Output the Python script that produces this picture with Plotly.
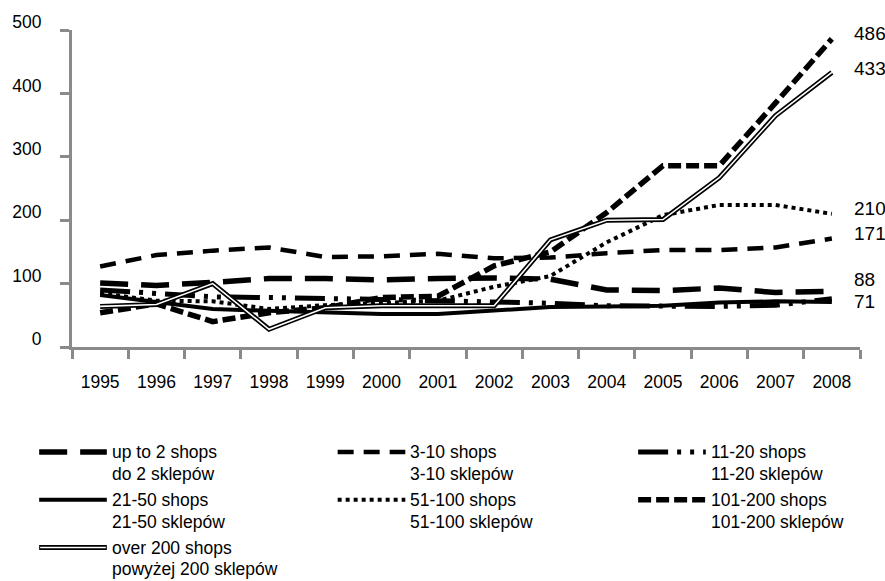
import plotly.graph_objects as go

# Categories (years)
years = ["1995", "1996", "1997", "1998", "1999", "2000", "2001",
         "2002", "2003", "2004", "2005", "2006", "2007", "2008"]

# Series values
up_to_2 = [101, 97, 102, 108, 108, 106, 108, 109, 107, 90, 89, 93, 86, 88]
shops_3_10 = [127, 145, 152, 157, 142, 143, 147, 140, 141, 148, 153, 153, 157, 171]
shops_11_20 = [90, 85, 79, 78, 77, 75, 73, 71, 69, 65, 64, 64, 66, 76]
shops_21_50 = [82, 71, 60, 57, 55, 52, 52, 57, 63, 64, 65, 70, 72, 71]
shops_51_100 = [85, 73, 72, 60, 66, 69, 73, 95, 112, 165, 208, 224, 224, 210]
shops_101_200 = [54, 68, 40, 54, 62, 78, 80, 128, 150, 212, 286, 286, 385, 486]
over_200 = [64, 67, 100, 28, 62, 65, 65, 65, 169, 200, 201, 267, 365, 433]

# Legend texts (English / Polish)
names_en = ["up to 2 shops", "3-10 shops", "11-20 shops", "21-50 shops",
            "51-100 shops", "101-200 shops", "over 200 shops"]
names_pl = ["do 2 sklepów", "3-10 sklepów", "11-20 sklepów", "21-50 sklepów",
            "51-100 sklepów", "101-200 sklepów", "powyżej 200 sklepów"]

y_ticks = [0, 100, 200, 300, 400, 500]

series = [up_to_2, shops_3_10, shops_11_20, shops_21_50,
          shops_51_100, shops_101_200, over_200]

# Line styles: (width, dash)
styles = [
    (5.5, "28px,13px"),
    (4.5, "16px,10px"),
    (5, "30px,9px,4px,9px,4px,9px"),
    (4, "solid"),
    (4, "4px,4px"),
    (5.5, "13px,5px"),
    (5, "solid"),          # double line: black outer
]

W, H = 885, 581
L, R, T, B = 68, 860, 29, 347.5
FONT = "Arial, Liberation Sans, sans-serif"
TXT = 17.5
AXIS_GREY = "#8a8a8a"


def px(x):
    return (x - L) / (R - L)


def py(y):
    return (B - y) / (B - T)


fig = go.Figure()

for vals, (w, dash), name in zip(series, styles, names_en):
    fig.add_trace(go.Scatter(
        x=years, y=vals, mode="lines", name=name,
        line=dict(color="black", width=w, dash=dash),
        showlegend=False, hoverinfo="x+y+name",
    ))

# white core of the double line
fig.add_trace(go.Scatter(
    x=years, y=over_200, mode="lines", name=names_en[6],
    line=dict(color="white", width=1.6),
    showlegend=False, hoverinfo="skip",
))

# end-of-line value labels: (series index, vertical nudge in px)
end_labels = [(5, 5), (6, 4), (4, 5), (1, 5), (0, 12), (3, 0)]
annotations = []
for idx, shift in end_labels:
    v = series[idx][-1]
    annotations.append(dict(
        x=px(852), xref="paper", y=v, yref="y", yshift=shift,
        text=str(v), showarrow=False, xanchor="left", yanchor="middle",
        font=dict(family=FONT, size=19, color="black"),
    ))

# custom legend: three columns, three rows, two text lines per entry
col_x = [35, 335, 637]
row_y = [453, 501, 549]
line_gap = 22
sample_len = 68
shapes = []
for i, (name_en, name_pl) in enumerate(zip(names_en, names_pl)):
    r, c = divmod(i, 3)
    x0 = col_x[c]
    y0 = row_y[r]
    w, dash = styles[i]
    shapes.append(dict(
        type="line", xref="paper", yref="paper",
        x0=px(x0), x1=px(x0 + sample_len), y0=py(y0), y1=py(y0),
        line=dict(color="black", width=w, dash=dash),
    ))
    if i == 6:
        shapes.append(dict(
            type="line", xref="paper", yref="paper",
            x0=px(x0 + 1), x1=px(x0 + sample_len - 1), y0=py(y0), y1=py(y0),
            line=dict(color="white", width=1.6),
        ))
    for k, txt in enumerate((name_en, name_pl)):
        annotations.append(dict(
            x=px(x0 + sample_len + 3), xref="paper",
            y=py(y0 + k * line_gap), yref="paper",
            text=txt, showarrow=False,
            xanchor="left", yanchor="middle", align="left",
            font=dict(family=FONT, size=TXT, color="black"),
        ))

fig.update_layout(
    width=W, height=H,
    margin=dict(l=L, r=W - R, t=T, b=H - B, pad=0),
    paper_bgcolor="white", plot_bgcolor="white",
    shapes=shapes, annotations=annotations,
    showlegend=False,
    xaxis=dict(
        type="category", range=[-0.5, 13.5],
        showline=True, linecolor=AXIS_GREY, linewidth=3,
        ticks="outside", tickson="boundaries", ticklen=9,
        tickwidth=3, tickcolor=AXIS_GREY,
        showgrid=False, zeroline=False,
        tickfont=dict(family=FONT, size=TXT, color="black"),
        ticklabelstandoff=17,
    ),
    yaxis=dict(
        range=[0, 500], tickvals=y_ticks,
        showline=True, linecolor=AXIS_GREY, linewidth=3,
        ticks="outside", ticklen=9, tickwidth=3, tickcolor=AXIS_GREY,
        showgrid=False, zeroline=False,
        tickfont=dict(family=FONT, size=TXT, color="black"),
        ticklabelshift=-8, ticklabelstandoff=15,
    ),
)

fig.write_html("out.html")
